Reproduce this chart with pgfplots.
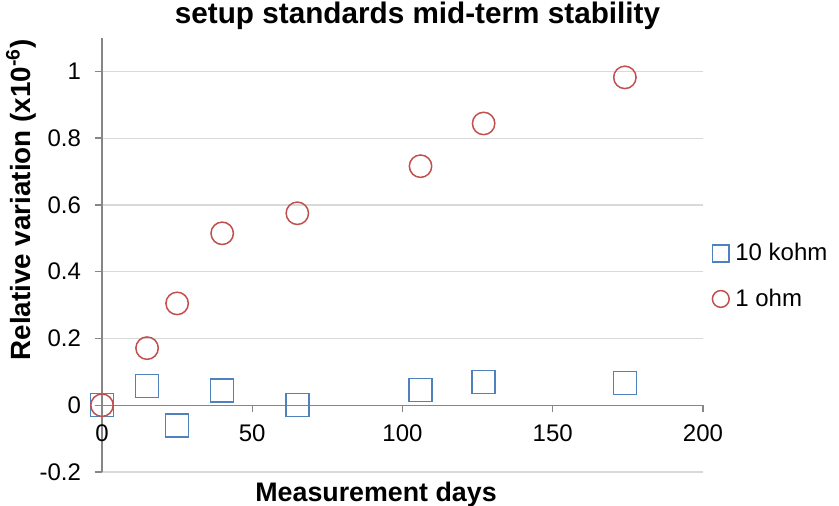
\documentclass[border=0pt]{standalone}
\usepackage{pgfplots}
\pgfplotsset{compat=1.18}
\usepackage{fontspec}
\setmainfont{Liberation Sans}
\definecolor{sqblue}{HTML}{4F81BD}
\definecolor{cired}{HTML}{C0504D}
\definecolor{axgray}{RGB}{134,134,134}
\definecolor{grgray}{RGB}{217,217,217}
\begin{document}
\begin{tikzpicture}
\begin{axis}[
  scale only axis,
  width=300.5pt, height=217pt,
  xmin=0, xmax=200, ymin=-0.2, ymax=1.1,
  axis x line=middle, axis y line=left,
  axis line style={-, draw=axgray, line width=0.65pt},
  xtick={0,50,100,150,200},
  ytick={-0.2,0,0.2,0.4,0.6,0.8,1},
  tick align=outside,
  major tick length=3.5pt,
  tick style={draw=axgray, line width=0.65pt},
  hide obscured x ticks=false, hide obscured y ticks=false,
  ymajorgrids, grid style={draw=grgray, line width=0.6pt},
  /pgf/number format/assume math mode=true,
  ticklabel style={font=\fontsize{12}{14}\selectfont},
  yticklabel style={xshift=-3.5pt},
  xticklabel style={yshift=-2.5pt},
  every axis title shift=0pt,
  title={setup standards mid-term stability},
  title style={font=\bfseries\fontsize{14.85}{17}\selectfont, at={(rel axis cs:0.525,1.0323)}, anchor=base},
  xlabel={Measurement days},
  xlabel style={font=\bfseries\fontsize{13.4}{16}\selectfont, at={(rel axis cs:0.456,-0.0691)}, anchor=base},
  ylabel={Relative variation (x10\textsuperscript{-6})},
  ylabel style={font=\bfseries\fontsize{13.9}{16}\selectfont, at={(rel axis cs:-0.1198,0.627)}, anchor=base},
  legend style={draw=none, fill=none, at={(rel axis cs:1,0.451)}, anchor=west, xshift=4.5pt,
    inner sep=0pt, font=\fontsize{12}{14}\selectfont, row sep=9.5pt,
    nodes={inner sep=1.5pt}},
  legend cell align=left,
  legend image code/.code={\draw[#1, mark size=4.2pt] plot coordinates {(0pt,0pt)}; \path (5.4pt,0pt);},
  clip=false,
]
\addplot[only marks, mark=square, mark size=5.75pt, draw=sqblue, line width=0.75pt] coordinates {
  (0,0) (15,0.058) (25,-0.06) (40,0.044) (65,0) (106,0.045) (127,0.069) (174,0.066)
};
\addlegendentry{10 kohm}
\addplot[only marks, mark=o, mark size=5.6pt, draw=cired, line width=0.75pt] coordinates {
  (0,0) (15,0.171) (25,0.305) (40,0.515) (65,0.575) (106,0.716) (127,0.844) (174,0.982)
};
\addlegendentry{1 ohm}
\coordinate (bl) at (rel axis cs:0,0);
\coordinate (tr) at (rel axis cs:1,1);
\end{axis}
\pgfresetboundingbox
\path ([xshift=-51pt,yshift=-17pt]bl) rectangle ([xshift=68pt,yshift=19pt]tr);
\end{tikzpicture}
\end{document}
